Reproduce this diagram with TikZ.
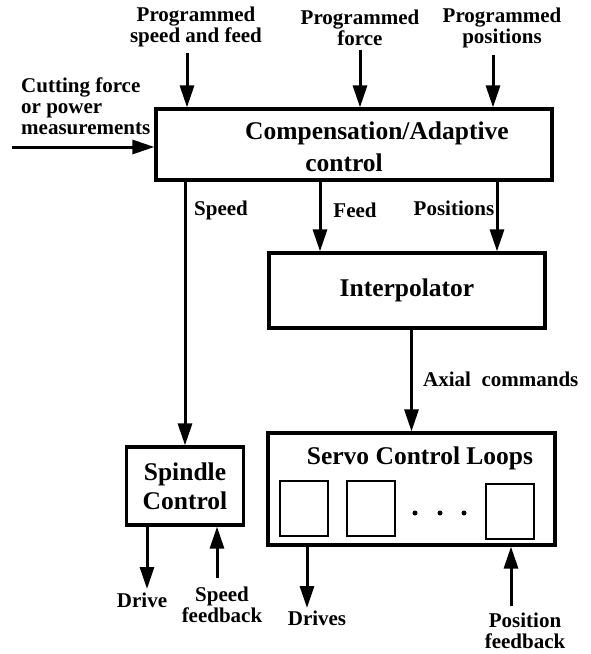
\documentclass[tikz,border=0pt]{standalone}
\usepackage{fontspec}
\setmainfont{Liberation Serif}
\usepackage{tikz}
\usetikzlibrary{arrows.meta,positioning,calc}
\newcommand\labfont{\fontsize{21}{21}\selectfont\bfseries}
\newcommand\boxfont{\fontsize{25.5}{29}\selectfont\bfseries}
\tikzset{
  blk/.style={rectangle,draw,line width=3.2pt,inner sep=0pt,font=\boxfont,align=center},
  sq/.style={rectangle,draw,line width=2pt,minimum width=48pt,minimum height=55pt},
  lbl/.style={inner sep=0pt,font=\labfont,align=center},
  ttl/.style={inner sep=0pt,font=\boxfont},
  arr/.style={-{Triangle[length=22pt,width=14pt]},line width=3pt}
}
\begin{document}
\begin{tikzpicture}[x=1pt,y=-1pt]
\useasboundingbox (0,0) rectangle (590,654);
% blocks
\node[blk,minimum width=396,minimum height=71] (comp) at (354,144.5) {};
\node[ttl] (compA) at (377,133) {Compensation/Adaptive};
\node[ttl] (compB) at (344,163) {control};
\node[blk,minimum width=276,minimum height=75] (interp) at (407,290.5) {Interpolator};
\node[blk,minimum width=117,minimum height=78] (spin) at (185,486) {Spindle\\Control};
\node[blk,minimum width=287,minimum height=112] (servo) at (411.5,489) {};
\node[ttl] (servoT) at (420,458) {Servo Control Loops};
\node[sq] (sq1) at (304,508.5) {};
\node[sq] (sq2) at (371,508.5) {};
\node[sq] (sq3) at (509.5,511.5) {};
\foreach \x in {415,440,464}
  \fill (\x,513) circle (2.5);
% labels
\node[lbl] (pSF) at (196,27) {Programmed\\speed and feed};
\node[lbl] (pF) at (360,28) {Programmed\\force};
\node[lbl] (pP) at (502,28) {Programmed\\positions};
\node[lbl,align=left,anchor=west] (cutL) at (21,106) {Cutting force\\or power\\measurements};
\node[lbl] (spdL) at (221,210) {Speed};
\node[lbl] (feedL) at (355,210) {Feed};
\node[lbl] (posL) at (454,208) {Positions};
\node[lbl,anchor=west] (axL) at (423,379) {Axial\ \ commands};
\node[lbl] (drvL) at (142,600) {Drive};
\node[lbl] (sfbL) at (222,605) {Speed\\feedback};
\node[lbl] (drvsL) at (317,618) {Drives};
\node[lbl] (pfbL) at (525,631) {Position\\feedback};
% free ends
\coordinate (inSF) at (187,53);
\coordinate (inF) at (360,50);
\coordinate (inP) at (493,55);
\coordinate (inC) at (12,147);
\coordinate (feedIn) at ([xshift=-87]interp.north);
\coordinate (posIn) at ([xshift=90]interp.north);
\coordinate (driveOut) at (147,589);
\coordinate (spdFb) at (217,578);
\coordinate (drivesOut) at (307,608);
\coordinate (posFb) at (511,606);
% arrows
\draw[arr] (inSF) -- (inSF |- comp.north);
\draw[arr] (inF) -- (inF |- comp.north);
\draw[arr] (inP) -- (inP |- comp.north);
\draw[arr] (inC) -- (inC -| comp.west);
\draw[arr] (comp.south -| spin.north) -- (spin.north);
\draw[arr] (comp.south -| feedIn) -- (feedIn);
\draw[arr] (comp.south -| posIn) -- (posIn);
\draw[arr] (interp.south -| servo.north) -- (servo.north);
\draw[arr] (spin.south -| driveOut) -- (driveOut);
\draw[arr] (spdFb) -- (spdFb |- spin.south);
\draw[arr] (drivesOut |- servo.south) -- (drivesOut);
\draw[arr] (posFb) -- (posFb |- servo.south);
\end{tikzpicture}
\end{document}
